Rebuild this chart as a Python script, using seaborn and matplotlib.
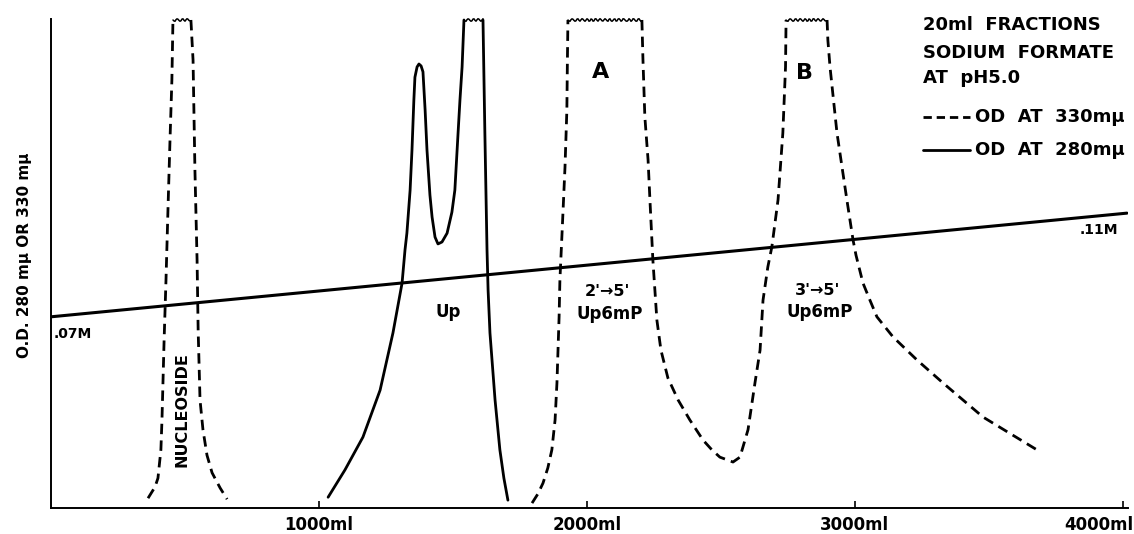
import numpy as np
import matplotlib
matplotlib.use("Agg")
import matplotlib.pyplot as plt
import matplotlib.transforms as mtransforms
import seaborn as sns

# ---------------- data (effluent volume in ml, optical density in relative units) -------------
nuc_ml = [362, 388, 399, 410, 414, 418, 422, 429, 437, 444, 451, 455, 522,
          530, 537, 545, 549, 556, 567, 582, 601, 631, 657]
nuc_od = [0.020, 0.043, 0.061, 0.119, 0.180, 0.262, 0.344, 0.466, 0.622, 0.753, 0.875, 0.998, 0.998,
          0.916, 0.691, 0.507, 0.364, 0.221, 0.160, 0.108, 0.072, 0.041, 0.018]

up_ml = [1034, 1097, 1164, 1228, 1276, 1310, 1321, 1328, 1340, 1347, 1354, 1358, 1366, 1373,
         1381, 1388, 1396, 1403, 1414, 1422, 1433, 1444, 1459, 1478, 1496, 1507, 1519, 1526,
         1534, 1541, 1612, 1619, 1627, 1631, 1638, 1657, 1675, 1690, 1705]
up_od = [0.022, 0.078, 0.145, 0.241, 0.358, 0.460, 0.528, 0.562, 0.650, 0.732, 0.834, 0.881, 0.902, 0.908,
         0.904, 0.892, 0.814, 0.732, 0.640, 0.595, 0.554, 0.540, 0.544, 0.562, 0.605, 0.650, 0.767, 0.834,
         0.902, 0.998, 0.998, 0.767, 0.528, 0.446, 0.358, 0.221, 0.119, 0.061, 0.016]

ab_ml = [1795, 1817, 1836, 1854, 1869, 1881, 1888, 1896, 1899, 1907, 1918, 1925, 1927, 1929,
         2205, 2209, 2216, 2228, 2235, 2246, 2261, 2276, 2302, 2340, 2384, 2433, 2466, 2496,
         2545, 2571, 2601, 2627, 2646, 2657, 2675, 2690, 2713, 2731, 2741, 2743,
         2896, 2899, 2907, 2933, 2970, 2993, 3004, 3030, 3056, 3082, 3142, 3231, 3328, 3478, 3679]
ab_od = [0.010, 0.029, 0.051, 0.082, 0.119, 0.180, 0.256, 0.391, 0.466, 0.562, 0.697, 0.814, 0.916, 0.998,
         0.998, 0.916, 0.800, 0.712, 0.630, 0.507, 0.384, 0.323, 0.266, 0.221, 0.180, 0.139, 0.119, 0.104,
         0.094, 0.104, 0.160, 0.256, 0.323, 0.425, 0.493, 0.534, 0.630, 0.767, 0.902, 0.998,
         0.998, 0.957, 0.902, 0.767, 0.630, 0.548, 0.517, 0.460, 0.425, 0.391, 0.350, 0.303, 0.256, 0.186, 0.119]

grad_ml = [0, 4015]
grad_od = [0.391, 0.603]
grad_labels = [".07M", ".11M"]

tick_ml = [1000, 2000, 3000, 4000]
tick_labels = ["1000ml", "2000ml", "3000ml", "4000ml"]

legend_lines = ["20ml  FRACTIONS", "SODIUM  FORMATE", "AT  pH5.0"]
legend_330 = "OD  AT  330m\u03bc"
legend_280 = "OD  AT  280m\u03bc"

TOP = 0.99

# ---------------- style ----------------
sns.set_theme(style="white")
plt.rcParams["font.family"] = ["DejaVu Sans"]
plt.rcParams["font.weight"] = "bold"
plt.rcParams["lines.scale_dashes"] = False

fig = plt.figure(figsize=(11.34, 5.34), dpi=100)
ax = fig.add_axes([0.045, 0.0487, 0.9497, 0.9157])
ax.set_xlim(0, 4019)
ax.set_ylim(0, 1)

LW_SOLID = 2.0
LW_DASH = 2.0
DASH = (7.5, 4.5)   # in points


def split_at_caps(x, y):
    pieces, caps = [], []
    start = 0
    for i in range(len(x) - 1):
        if y[i] >= TOP and y[i + 1] >= TOP:
            pieces.append((x[start:i + 1], y[start:i + 1]))
            caps.append(([x[i], x[i + 1]], [y[i], y[i + 1]]))
            start = i + 1
    pieces.append((x[start:], y[start:]))
    return pieces, caps


def draw(x, y, dashed):
    pieces, caps = split_at_caps(x, y)
    for px, py in pieces:
        n0 = len(ax.lines)
        sns.lineplot(x=px, y=py, sort=False, estimator=None, ax=ax, color="black",
                     lw=LW_DASH if dashed else LW_SOLID)
        for ln in ax.lines[n0:]:
            ln.set_clip_on(False)
            ln.set_solid_capstyle("round")
            ln.set_solid_joinstyle("round")
            if dashed:
                ln.set_dashes(DASH)
                ln.set_dash_capstyle("butt")
    for cx, cy in caps:
        n0 = len(ax.lines)
        sns.lineplot(x=cx, y=cy, sort=False, estimator=None, ax=ax, color="black", lw=1.1)
        for ln in ax.lines[n0:]:
            ln.set_clip_on(False)
            ln.set_sketch_params(scale=1.3, length=5, randomness=1.5)


draw(nuc_ml, nuc_od, dashed=True)
draw(ab_ml, ab_od, dashed=True)
draw(up_ml, up_od, dashed=False)

# gradient line
sns.lineplot(x=grad_ml, y=grad_od, sort=False, estimator=None, ax=ax, color="black", lw=2.2)

# ---------------- axes ----------------
for side in ["top", "right"]:
    ax.spines[side].set_visible(False)
for side in ["left", "bottom"]:
    ax.spines[side].set_color("black")
    ax.spines[side].set_linewidth(1.4)

ax.set_xticks(tick_ml)
ax.set_xticklabels(tick_labels, fontsize=12, fontweight="bold")
ax.tick_params(axis="x", direction="in", length=5, width=1.2, color="black", pad=6,
               bottom=True, labelcolor="black")
ax.set_yticks([])
last = ax.get_xticklabels()[-1]
last.set_transform(last.get_transform() + mtransforms.ScaledTranslation(-0.24, 0, fig.dpi_scale_trans))

ax.set_ylabel("O.D. 280 m\u03bc OR 330 m\u03bc", fontsize=11, fontweight="bold", color="black")
ax.yaxis.set_label_coords(-0.0175, 0.517)
ax.set_xlabel("")

# ---------------- annotations ----------------
TXT = dict(color="black", fontweight="bold")
ax.text(grad_ml[0] + 8, grad_od[0] - 0.035, grad_labels[0], ha="left", va="center", fontsize=10, **TXT)
ax.text(3981, 0.569, grad_labels[1], ha="right", va="center", fontsize=10, **TXT)

ax.text(489, 0.202, "NUCLEOSIDE", rotation=90, ha="center", va="center", fontsize=11.5, **TXT)
ax.text(1481, 0.401, "Up", ha="center", va="center", fontsize=12, **TXT)
ax.text(2075, 0.442, "2'\u21925'", ha="center", va="center", fontsize=11.5, **TXT)
ax.text(2086, 0.397, "Up6mP", ha="center", va="center", fontsize=12, **TXT)
ax.text(2862, 0.444, "3'\u21925'", ha="center", va="center", fontsize=11.5, **TXT)
ax.text(2869, 0.401, "Up6mP", ha="center", va="center", fontsize=12, **TXT)
ax.text(2049, 0.892, "A", ha="center", va="center", fontsize=16, **TXT)
ax.text(2813, 0.890, "B", ha="center", va="center", fontsize=16, **TXT)

# legend block
LX = 3254
for txt, yy in zip(legend_lines, [0.988, 0.930, 0.879]):
    ax.text(LX, yy, txt, ha="left", va="center", fontsize=13, **TXT)

n0 = len(ax.lines)
sns.lineplot(x=[LX, 3429], y=[0.800, 0.800], estimator=None, ax=ax, color="black", lw=LW_DASH)
ax.lines[n0].set_dashes((6.0, 3.5))
sns.lineplot(x=[LX, 3429], y=[0.732, 0.732], estimator=None, ax=ax, color="black", lw=LW_SOLID)
ax.text(3448, 0.800, legend_330, ha="left", va="center", fontsize=13, **TXT)
ax.text(3448, 0.732, legend_280, ha="left", va="center", fontsize=13, **TXT)

if ax.get_legend() is not None:
    ax.get_legend().remove()

fig.savefig("out.png", dpi=100, facecolor="white")
